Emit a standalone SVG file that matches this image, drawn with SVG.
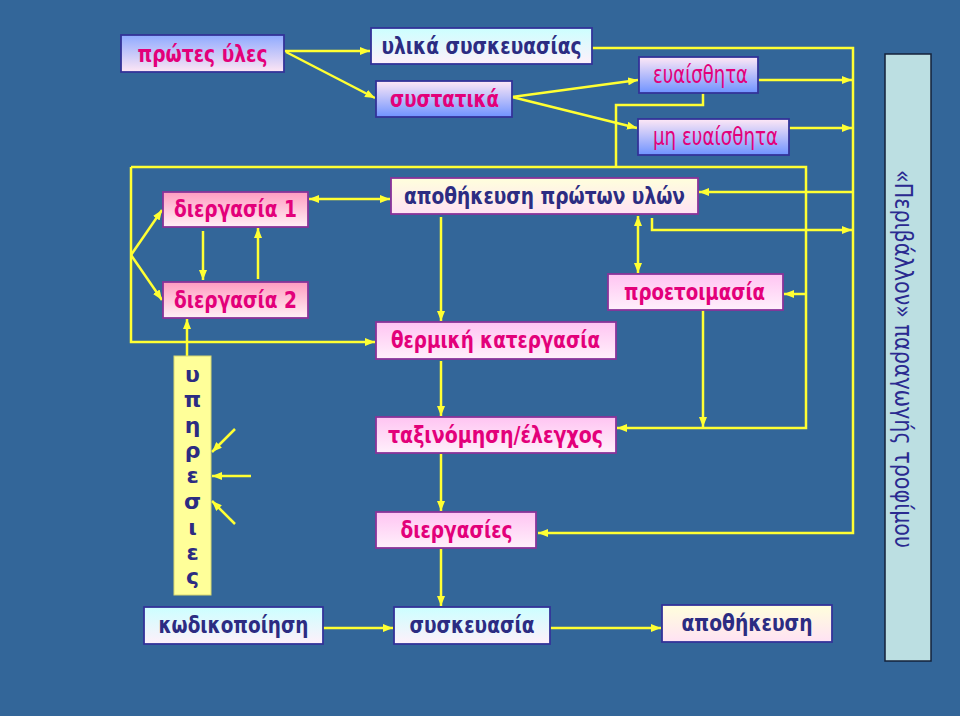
<svg xmlns="http://www.w3.org/2000/svg" width="960" height="716" viewBox="0 0 960 716">
<defs>
<linearGradient id="gBluePinkDown" x1="0" y1="0" x2="0" y2="1"><stop offset="0" stop-color="#8eaaff"/><stop offset="1" stop-color="#ffe6f4"/></linearGradient>
<linearGradient id="gPinkBlueDown" x1="0" y1="0" x2="0" y2="1"><stop offset="0" stop-color="#ffe8f6"/><stop offset="1" stop-color="#6f93ff"/></linearGradient>
<linearGradient id="gCyan" x1="0" y1="0" x2="0" y2="1"><stop offset="0" stop-color="#ccffff"/><stop offset="1" stop-color="#fff0fa"/></linearGradient>
<linearGradient id="gYellow" x1="0" y1="0" x2="0" y2="1"><stop offset="0" stop-color="#ffffdc"/><stop offset="1" stop-color="#ffe2f4"/></linearGradient>
<linearGradient id="gSalmon" x1="0" y1="0" x2="0" y2="1"><stop offset="0" stop-color="#ff9cc0"/><stop offset="1" stop-color="#fff0f6"/></linearGradient>
<linearGradient id="gViolet" x1="0" y1="0" x2="0" y2="1"><stop offset="0" stop-color="#ffc4f2"/><stop offset="1" stop-color="#fff0fb"/></linearGradient>
<marker id="ah" markerUnits="userSpaceOnUse" markerWidth="10" markerHeight="8" refX="10" refY="4" orient="auto-start-reverse"><path d="M0,0 L10,4 L0,8 z" fill="#ffff33"/></marker>
<style>
.bg{fill:#336699}
.box{stroke:#333399;stroke-width:1.8}
.pbox{stroke:#8a3399;stroke-width:1.8}
.tb{font-family:"DejaVu Sans","Liberation Sans",sans-serif;font-weight:bold;font-size:23px;text-anchor:middle}
.tn{font-family:"DejaVu Sans","Liberation Sans",sans-serif;font-weight:normal;font-size:24px;text-anchor:middle}
.ty{font-family:"DejaVu Sans","Liberation Sans",sans-serif;font-weight:bold;font-size:22px;text-anchor:middle}
.mag{fill:#e3007a}
.navy{fill:#2c2c82}
.ln{fill:none;stroke:#ffff33;stroke-width:2.5}
.ar{marker-end:url(#ah)}
.da{marker-start:url(#ah);marker-end:url(#ah)}
</style>
</defs>
<rect class="bg" x="0" y="0" width="960" height="716"/>

<g id="connectors">
<path class="ln ar" d="M284,51 L370,51"/>
<path class="ln ar" d="M286,52 L375,98"/>
<path class="ln ar" d="M512,97 L638,80"/>
<path class="ln ar" d="M512,97 L637,128"/>
<path class="ln ar" d="M592,48 L853,48 L853,533 L538,533"/>
<path class="ln ar" d="M758,80 L852,80"/>
<path class="ln ar" d="M789,128 L852,128"/>
<path class="ln ar" d="M853,192 L699,192"/>
<path class="ln ar" d="M652,218 L652,230 L852,230"/>
<path class="ln da" d="M638,216 L638,273"/>
<path class="ln" d="M703,93 L703,105 L616,105 L616,167"/>
<path class="ln ar" d="M131,167 L806,167 L806,428 L617,428"/>
<path class="ln ar" d="M806,294 L784,294"/>
<path class="ln ar" d="M703,310 L703,427"/>
<path class="ln ar" d="M131,167 L131,342 L375,342"/>
<path class="ln ar" d="M131,255 L162,210"/>
<path class="ln ar" d="M131,255 L162,300"/>
<path class="ln da" d="M309,199 L390,199"/>
<path class="ln ar" d="M203,231 L203,280"/>
<path class="ln ar" d="M258,279 L258,228"/>
<path class="ln ar" d="M187,356 L187,319"/>
<path class="ln ar" d="M441,217 L441,321"/>
<path class="ln ar" d="M441,361 L441,416"/>
<path class="ln ar" d="M441,454 L441,511"/>
<path class="ln ar" d="M441,549 L441,606"/>
<path class="ln ar" d="M323,628 L393,628"/>
<path class="ln ar" d="M550,628 L661,628"/>
<path class="ln ar" d="M235,429 L212,452"/>
<path class="ln ar" d="M251,476 L212,476"/>
<path class="ln ar" d="M235,524 L212,501"/>
</g>

<g id="protes-yles"><rect class="box" x="121" y="35" width="163" height="37" fill="url(#gBluePinkDown)"/><text class="tb mag" x="202.5" y="62" textLength="130" lengthAdjust="spacingAndGlyphs">πρώτες ύλες</text></g>
<g id="ylika-syskevasias"><rect class="box" x="371" y="28" width="221" height="36" fill="url(#gCyan)"/><text class="tb navy" x="481.5" y="54" textLength="200" lengthAdjust="spacingAndGlyphs">υλικά συσκευασίας</text></g>
<g id="systatika"><rect class="box" x="376" y="81" width="136" height="36" fill="url(#gPinkBlueDown)"/><text class="tb mag" x="444.5" y="107" textLength="109" lengthAdjust="spacingAndGlyphs">συστατικά</text></g>
<g id="evaisthita"><rect class="box" x="639" y="57" width="119" height="36" fill="url(#gPinkBlueDown)"/><text class="tn mag" x="700.5" y="83" textLength="95" lengthAdjust="spacingAndGlyphs">ευαίσθητα</text></g>
<g id="mi-evaisthita"><rect class="box" x="638" y="119" width="151" height="36" fill="url(#gPinkBlueDown)"/><text class="tn mag" x="715.5" y="145" textLength="125" lengthAdjust="spacingAndGlyphs">μη ευαίσθητα</text></g>
<g id="diergasia1"><rect class="pbox" x="163" y="192" width="145" height="35" fill="url(#gSalmon)"/><text class="tb mag" x="235.5" y="217" textLength="123" lengthAdjust="spacingAndGlyphs">διεργασία 1</text></g>
<g id="diergasia2"><rect class="pbox" x="163" y="282" width="145" height="36" fill="url(#gSalmon)"/><text class="tb mag" x="235.5" y="308" textLength="123" lengthAdjust="spacingAndGlyphs">διεργασία 2</text></g>
<g id="apothikefsi-proton-ylon"><rect class="pbox" x="391" y="178" width="307" height="36" fill="url(#gYellow)"/><text class="tb navy" x="544.5" y="204" textLength="281" lengthAdjust="spacingAndGlyphs">αποθήκευση πρώτων υλών</text></g>
<g id="proetoimasia"><rect class="pbox" x="608" y="274" width="175" height="36" fill="url(#gViolet)"/><text class="tb mag" x="694.5" y="300" textLength="141" lengthAdjust="spacingAndGlyphs">προετοιμασία</text></g>
<g id="thermiki-katergasia"><rect class="pbox" x="376" y="322" width="240" height="37" fill="url(#gViolet)"/><text class="tb mag" x="495.5" y="348" textLength="209" lengthAdjust="spacingAndGlyphs">θερμική κατεργασία</text></g>
<g id="taxinomisi-elegxos"><rect class="pbox" x="376" y="417" width="240" height="36" fill="url(#gViolet)"/><text class="tb mag" x="495.5" y="443" textLength="215" lengthAdjust="spacingAndGlyphs">ταξινόμηση/έλεγχος</text></g>
<g id="diergasies"><rect class="pbox" x="376" y="512" width="160" height="36" fill="url(#gViolet)"/><text class="tb mag" x="456.5" y="538" textLength="112" lengthAdjust="spacingAndGlyphs">διεργασίες</text></g>
<g id="ypiresies"><rect x="174" y="356" width="37" height="239" fill="#ffff99" stroke="#d8d870" stroke-width="1"/>
<text class="ty navy" x="192.5" y="382">υ</text><text class="ty navy" x="192.5" y="407">π</text><text class="ty navy" x="192.5" y="433">η</text><text class="ty navy" x="192.5" y="458">ρ</text><text class="ty navy" x="192.5" y="483">ε</text><text class="ty navy" x="192.5" y="509">σ</text><text class="ty navy" x="192.5" y="535">ι</text><text class="ty navy" x="192.5" y="560">ε</text><text class="ty navy" x="192.5" y="584">ς</text></g>
<g id="kodikopoiisi"><rect class="box" x="144" y="607" width="179" height="37" fill="url(#gCyan)"/><text class="tb navy" x="233.5" y="633" textLength="150" lengthAdjust="spacingAndGlyphs">κωδικοποίηση</text></g>
<g id="syskevasia"><rect class="box" x="394" y="607" width="156" height="37" fill="url(#gCyan)"/><text class="tb navy" x="472" y="633" textLength="125" lengthAdjust="spacingAndGlyphs">συσκευασία</text></g>
<g id="apothikefsi"><rect class="box" x="662" y="605" width="170" height="37" fill="url(#gYellow)"/><text class="tb navy" x="747" y="631" textLength="131" lengthAdjust="spacingAndGlyphs">αποθήκευση</text></g>
<g id="perivallon"><rect x="885" y="54" width="46" height="607" fill="#bcdfe2" stroke="#14223a" stroke-width="1.5"/><text class="tn" fill="#2a2a90" font-size="24" transform="translate(895,359) rotate(90)" textLength="378" lengthAdjust="spacingAndGlyphs">«Περιβάλλον» παραγωγής τροφίμου</text></g>
</svg>
